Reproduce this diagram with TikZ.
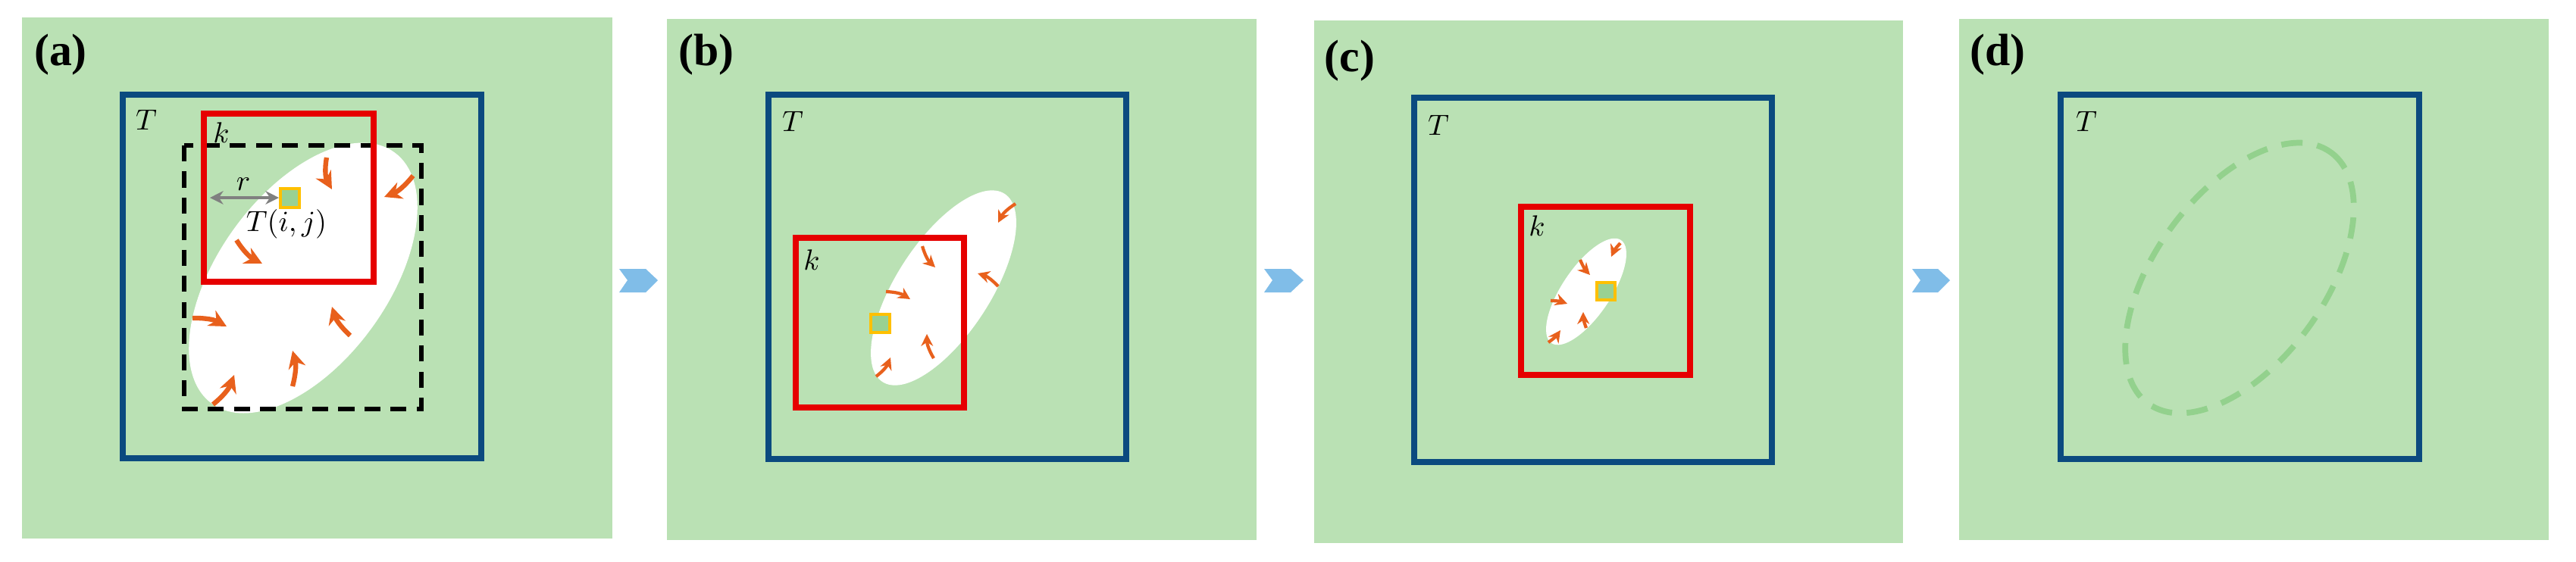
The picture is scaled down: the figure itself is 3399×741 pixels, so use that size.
\documentclass[tikz,border=0pt]{standalone}
\usetikzlibrary{arrows.meta}
\usepackage{fontspec}
\setmainfont{Liberation Serif}
\definecolor{bggreen}{HTML}{BAE1B4}
\definecolor{tblue}{HTML}{0B4A7F}
\definecolor{kred}{HTML}{E60000}
\definecolor{oarr}{HTML}{E8601C}
\definecolor{ysq}{HTML}{FFC000}
\definecolor{sqfill}{HTML}{99D192}
\definecolor{larr}{HTML}{80BDE8}
\definecolor{dgreen}{HTML}{93D18D}
\begin{document}
\begin{tikzpicture}[x=0.01cm,y=-0.01cm,
  panel/.style={fill=bggreen},
  tbox/.style={draw=tblue,line width=2.3pt},
  kbox/.style={draw=kred,line width=2.4pt},
  oa/.style={draw=oarr,line width=1.8pt,-{Stealth[length=6.5pt,width=6.5pt]}},
  oas/.style={draw=oarr,line width=1.2pt,-{Stealth[length=4.5pt,width=4.5pt]}},
  sq/.style={draw=ysq,fill=sqfill,line width=1.3pt},
  lab/.style={font=\bfseries\fontsize{17}{19}\selectfont},
  it/.style={font=\fontsize{11}{12}\selectfont},
  nxt/.style={fill=larr}]
\useasboundingbox (0,0) rectangle (3399,741);
% ---------- panel a
\fill[panel] (29,23) rectangle (808,711);
\fill[white] (400,367) [rotate around={54:(400,367)}] ellipse [x radius=205,y radius=112];
\draw[black,line width=1.8pt,dash pattern=on 6pt off 3.8pt] (243,192) rectangle (556,540);
\draw[tbox] (162,125) rectangle (635,605);
\draw[kbox] (269,150) rectangle (493,372);
\draw[gray,line width=1.4pt,{Stealth[length=5pt,width=5pt]}-{Stealth[length=5pt,width=5pt]}] (277,261) -- (368,261);
\draw[sq] (370,249) rectangle (395,274);
\node[it] (ra) at (321,243) {$r$};
\node[it] (tij) at (378,296) {$T(i,j)$};
\node[it] (Ta) at (193,158) {$T$};
\node[it] (ka) at (292,175) {$k$};
\node[lab] (la) at (80,72) {(a)};
\draw[oa] (431,208) to[bend right=20] (438,250);
\draw[oa] (545,232) to[bend left=15] (507,260);
\draw[oa] (312,317) to[bend right=15] (346,348);
\draw[oa] (254,420) to[bend left=15] (299,431);
\draw[oa] (462,443) to[bend left=15] (438,405);
\draw[oa] (386,510) to[bend right=15] (386,463);
\draw[oa] (281,534) to[bend right=15] (309,495);
\fill[nxt] (817,355) -- (852,355) -- (868,370) -- (852,386) -- (817,386) -- (828,370) -- cycle;
% ---------- panel b
\fill[panel] (880,25) rectangle (1658,713);
\fill[white] (1245,380) [rotate around={57:(1245,380)}] ellipse [x radius=148,y radius=62];
\draw[tbox] (1014,125) rectangle (1486,606);
\draw[kbox] (1050,314) rectangle (1272,538);
\draw[sq] (1149,415) rectangle (1174,439);
\node[it] (Tb) at (1046,160) {$T$};
\node[it] (kb) at (1071,343) {$k$};
\node[lab] (lb) at (932,72) {(b)};
\draw[oas] (1340,269) to[bend right=15] (1317,294);
\draw[oas] (1217,325) to[bend right=15] (1234,353);
\draw[oas] (1317,378) to[bend right=15] (1290,361);
\draw[oas] (1169,385) to[bend left=15] (1201,395);
\draw[oas] (1232,473) to[bend left=15] (1223,441);
\draw[oas] (1156,497) to[bend right=15] (1175,472);
\fill[nxt] (1668,355) -- (1703,355) -- (1720,370) -- (1703,386) -- (1668,386) -- (1679,370) -- cycle;
% ---------- panel c
\fill[panel] (1734,27) rectangle (2511,717);
\draw[tbox] (1866,129) rectangle (2338,610);
\draw[kbox] (2007,273) rectangle (2230,495);
\fill[white] (2093,385) [rotate around={56:(2093,385)}] ellipse [x radius=82,y radius=32];
\draw[sq] (2107,373) rectangle (2131,396);
\node[it] (Tc) at (1898,165) {$T$};
\node[it] (kc) at (2028,298) {$k$};
\node[lab] (lc) at (1781,80) {(c)};
\draw[oas] (2138,321) to[bend right=10] (2126,339);
\draw[oas] (2085,343) to[bend right=10] (2098,363);
\draw[oas] (2046,397) to[bend left=10] (2068,401);
\draw[oas] (2093,433) to[bend left=10] (2089,412);
\draw[oas] (2043,452) to[bend right=10] (2059,436);
\fill[nxt] (2523,355) -- (2557,355) -- (2573,370) -- (2557,386) -- (2523,386) -- (2534,370) -- cycle;
% ---------- panel d
\fill[panel] (2585,25) rectangle (3363,713);
\draw[tbox] (2719,125) rectangle (3192,606);
\draw[dgreen,line width=2.2pt,dash pattern=on 8pt off 5.5pt] (2955,367) [rotate around={54:(2955,367)}] ellipse [x radius=205,y radius=112];
\node[it] (Td) at (2753,160) {$T$};
\node[lab] (ld) at (2636,72) {(d)};
\end{tikzpicture}
\end{document}
